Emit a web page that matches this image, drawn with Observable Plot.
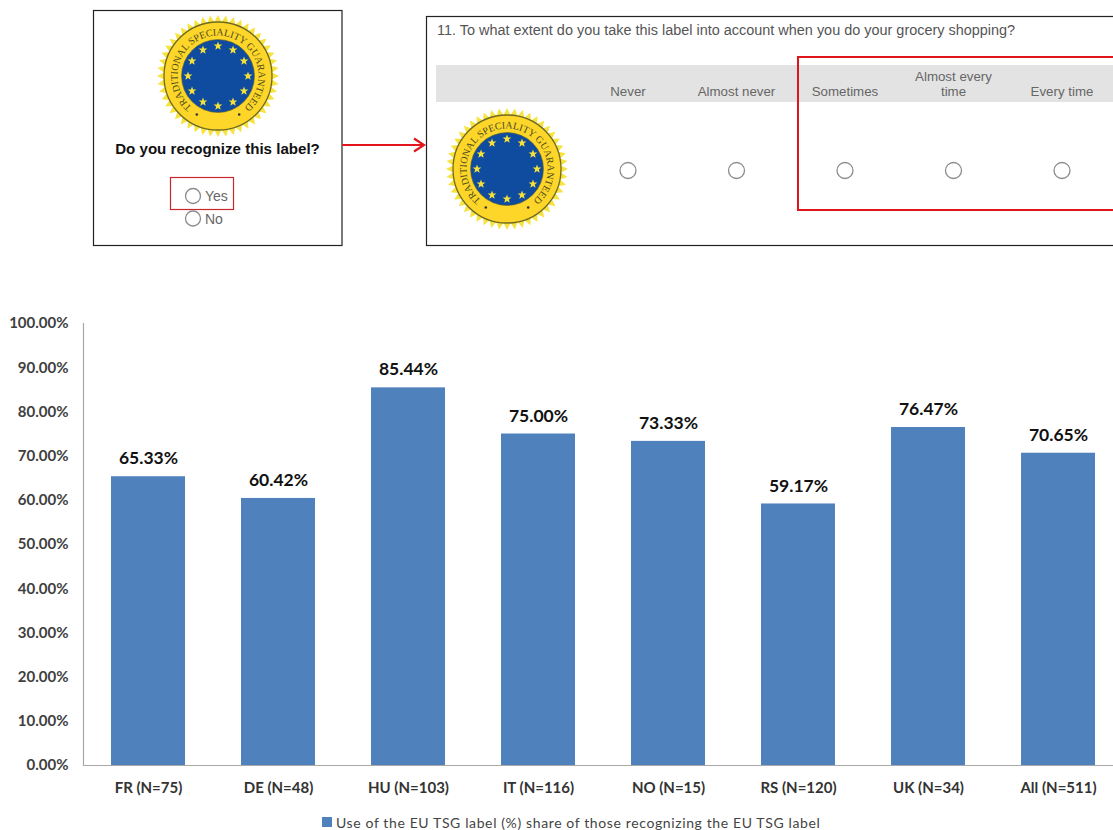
<!DOCTYPE html>
<html>
<head>
<meta charset="utf-8">
<script src="https://cdn.jsdelivr.net/npm/d3@7"></script>
<script src="https://cdn.jsdelivr.net/npm/@observablehq/plot@0.6"></script>
<style>
  html, body { margin: 0; padding: 0; background: #fff; overflow: hidden; }
  #page { width: 1113px; height: 830px; position: relative; overflow: hidden; }
  #survey { display: block; }
  #chart svg { display: block; max-width: none; }
  #legend { height: 20px; width: 1113px; display: flex; align-items: center; font: 14px Lato, sans-serif; color: #444; letter-spacing: 0.62px; position: relative; top: 2px; }
  #legend i { display: inline-block; width: 10px; height: 10px; background: #4f81bd; margin-left: 322px; margin-right: 4px; }
</style>
</head>
<body>
<div id="page">
  <div id="survey"></div>
  <div id="chart"></div>
  <div id="legend"><i></i><span></span></div>
</div>
<script>
// ---- chart data ----
const categories = ["FR (N=75)", "DE (N=48)", "HU (N=103)", "IT (N=116)", "NO (N=15)", "RS (N=120)", "UK (N=34)", "All (N=511)"];
const shares = [65.33, 60.42, 85.44, 75.00, 73.33, 59.17, 76.47, 70.65];
const yTicks = [0, 10, 20, 30, 40, 50, 60, 70, 80, 90, 100];
const legendLabel = "Use of the EU TSG label (%) share of those recognizing the EU TSG label";

// ---- survey illustration text ----
const recognizeQuestion = "Do you recognize this label?";
const recognizeOptions = ["Yes", "No"];
const frequencyQuestion = "11. To what extent do you take this label into account when you do your grocery shopping?";
const frequencyOptions = [["Never"], ["Almost never"], ["Sometimes"], ["Almost every", "time"], ["Every time"]];
const sealText = "TRADITIONAL SPECIALITY GUARANTEED";

const rows = categories.map((category, i) => ({category, share: shares[i]}));
const pct = d => d.toFixed(2) + "%";

const chart = Plot.plot({
  width: 1113,
  height: 540,
  marginTop: 53,
  marginBottom: 45,
  marginLeft: 83,
  marginRight: 0,
  style: {fontFamily: "Lato, sans-serif", background: "transparent"},
  x: {domain: categories, range: [82.5, 1123], paddingInner: 0.43, paddingOuter: 0.215, align: 0.5, label: null},
  y: {domain: [0, 100], label: null},
  marks: [
    Plot.barY(rows, {x: "category", y: "share", fill: "#4f81bd"}),
    Plot.frame({anchor: "left", stroke: "#a8a8a8", strokeWidth: 1.2}),
    Plot.frame({anchor: "bottom", stroke: "#a8a8a8", strokeWidth: 1.2}),
    Plot.axisY({ticks: yTicks, tickSize: 0, tickPadding: 15, tickFormat: pct, fontSize: 15, fontWeight: 700, fill: "#404040", label: null}),
    Plot.axisX({tickSize: 0, tickPadding: 17, fontSize: 15, fontWeight: 700, fill: "#333", label: null}),
    Plot.text(rows, {x: "category", y: "share", text: d => pct(d.share), dy: -18, fontSize: 17.5, fontWeight: 700, fill: "#111"})
  ]
});
document.getElementById("chart").append(chart);
document.querySelector("#legend span").textContent = legendLabel;

// ---- survey illustration, above the chart ----
const svg = d3.select("#survey").append("svg")
  .attr("width", 1113).attr("height", 270)
  .style("display", "block")
  .attr("font-family", "'Liberation Sans', Arial, sans-serif");

function starPath(cx, cy, r) {
  const p = [];
  for (let i = 0; i < 10; i++) {
    const a = -Math.PI / 2 + i * Math.PI / 5;
    const q = i % 2 ? r * 0.42 : r;
    p.push([cx + q * Math.cos(a), cy + q * Math.sin(a)]);
  }
  return "M" + p.map(d => d.join(",")).join("L") + "Z";
}

function seal(id, cx, cy) {
  const g = svg.append("g");
  const teeth = 48, pts = [];
  for (let i = 0; i < teeth * 2; i++) {
    const a = i * Math.PI / teeth;
    const q = i % 2 ? 54 : 61;
    pts.push([cx + q * Math.cos(a), cy + q * Math.sin(a)]);
  }
  g.append("path").attr("d", "M" + pts.map(d => d.join(",")).join("L") + "Z").attr("fill", "#f6e33f");
  g.append("circle").attr("cx", cx).attr("cy", cy).attr("r", 54).attr("fill", "#fdd629").attr("stroke", "#6f6a24").attr("stroke-width", 1.3);
  g.append("circle").attr("cx", cx).attr("cy", cy).attr("r", 36.5).attr("fill", "#0f4b9e").attr("stroke", "#6f6a24").attr("stroke-width", 0.6);
  for (let i = 0; i < 12; i++) {
    const a = i * Math.PI / 6;
    g.append("path").attr("d", starPath(cx + 30 * Math.cos(a), cy + 30 * Math.sin(a), 4.6)).attr("fill", "#f3e03a");
  }
  // text runs clockwise along the ring, from lower left to lower right
  const R = 40.5, a0 = Math.PI * 0.71, a1 = Math.PI * 2.29;
  g.append("path").attr("id", id).attr("fill", "none")
    .attr("d", `M${cx + R * Math.cos(a0)},${cy + R * Math.sin(a0)}A${R},${R} 0 1 1 ${cx + R * Math.cos(a1)},${cy + R * Math.sin(a1)}`);
  g.append("text").attr("font-family", "'Liberation Serif', serif").attr("font-size", 10).attr("fill", "#4a4a1e")
    .append("textPath").attr("href", "#" + id).attr("startOffset", "50%").attr("text-anchor", "middle")
    .text(sealText);
  g.selectAll(".dot").data([Math.PI * 0.66, Math.PI * 0.34]).join("circle")
    .attr("cx", a => cx + 44 * Math.cos(a)).attr("cy", a => cy + 44 * Math.sin(a)).attr("r", 1.3).attr("fill", "#333");
}

function radio(cx, cy, r) {
  svg.append("circle").attr("cx", cx).attr("cy", cy).attr("r", r).attr("fill", "#fff").attr("stroke", "#8c8c8c").attr("stroke-width", 1.3);
}

// left panel
svg.append("rect").attr("x", 93.5).attr("y", 10.5).attr("width", 248.5).attr("height", 235).attr("fill", "none").attr("stroke", "#222").attr("stroke-width", 1.2);
seal("seal-a", 218, 76);
svg.append("text").attr("x", 217.5).attr("y", 154).attr("text-anchor", "middle").attr("font-size", 15.1).attr("font-weight", 700).attr("fill", "#111").text(recognizeQuestion);
svg.append("rect").attr("x", 170.5).attr("y", 177.5).attr("width", 63).attr("height", 32).attr("fill", "none").attr("stroke", "#c8282d").attr("stroke-width", 1.2);
recognizeOptions.forEach((label, i) => {
  const y = 196 + i * 22.5;
  radio(193, y, 7.5);
  svg.append("text").attr("x", 205).attr("y", y + 5).attr("font-size", 14).attr("fill", "#666").text(label);
});

// arrow between panels
svg.append("path").attr("d", "M342,145H423M414,138.5L424,145L414,151.5").attr("fill", "none").attr("stroke", "#e2161c").attr("stroke-width", 2.2);

// right panel
svg.append("rect").attr("x", 426.5).attr("y", 16.5).attr("width", 700).attr("height", 229).attr("fill", "none").attr("stroke", "#222").attr("stroke-width", 1.2);
svg.append("text").attr("x", 437).attr("y", 34.5).attr("font-size", 14.45).attr("fill", "#555").text(frequencyQuestion);
svg.append("rect").attr("x", 436).attr("y", 65).attr("width", 677).attr("height", 37).attr("fill", "#e3e3e3");
seal("seal-b", 507, 169);
const colX = [628, 736.5, 845, 953.5, 1062];
frequencyOptions.forEach((lines, i) => {
  const t = svg.append("text").attr("text-anchor", "middle").attr("font-size", 13.3).attr("fill", "#666");
  lines.forEach((line, j) => {
    t.append("tspan").attr("x", colX[i]).attr("y", 95.5 - (lines.length - 1 - j) * 15).text(line);
  });
  radio(colX[i], 170.5, 8);
});
svg.append("rect").attr("x", 798).attr("y", 57).attr("width", 330).attr("height", 153).attr("fill", "none").attr("stroke", "#e0141b").attr("stroke-width", 2);
</script>
</body>
</html>
